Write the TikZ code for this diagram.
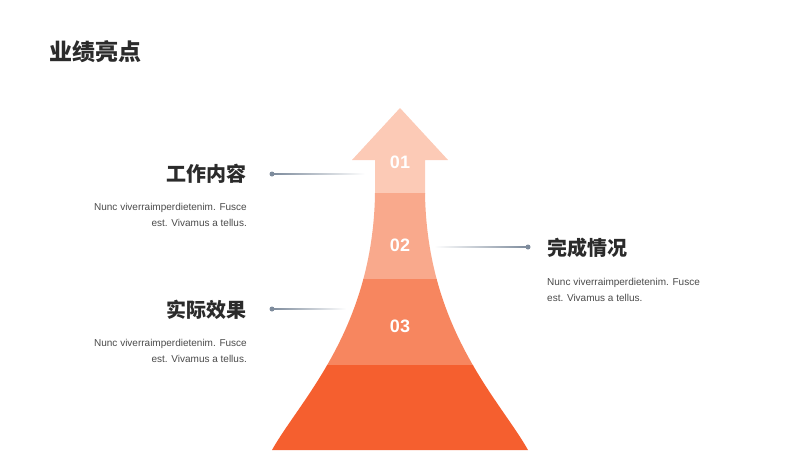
\documentclass[tikz,border=0pt]{standalone}
\usepackage{fontspec}
\setmainfont{Liberation Sans}
\newfontfamily\cjk{Noto Sans CJK SC}
\usetikzlibrary{calc}

\definecolor{bandA}{HTML}{FCCAB6}
\definecolor{bandB}{HTML}{F9A98C}
\definecolor{bandC}{HTML}{F7865F}
\definecolor{bandD}{HTML}{F55F2F}
\definecolor{linegray}{HTML}{7D8B9C}
\definecolor{txtdark}{HTML}{2B2B2B}
\definecolor{txtgray}{HTML}{4A4A4A}

\begin{document}
\begin{tikzpicture}[
        x=1pt, y=-1pt,
        title/.style={font=\cjk\bfseries\fontsize{23}{27}\selectfont, text=txtdark, inner sep=0pt},
        headtext/.style={font=\cjk\bfseries\fontsize{20}{24}\selectfont, text=txtdark, inner sep=0pt},
        body/.style={font=\fontsize{10}{16}\selectfont, text=txtgray, inner sep=0pt},
        num/.style={font=\bfseries\fontsize{18}{20}\selectfont, text=white, inner sep=0pt},
        enddot/.style={circle, fill=linegray, inner sep=0pt, minimum size=5pt}
    ]
    \useasboundingbox (0,0) rectangle (800,450);

    % Arrow
    \begin{scope}
        \clip (400,108) -- (448,160) -- (425,160) -- (425,193)
            .. controls (427,330) and (500,400) .. (528,450) -- (272,450)
            .. controls (300,400) and (373,330) .. (375,193) -- (375,160) -- (352,160) -- cycle;
        \fill[bandA] (340,100) rectangle (460,194);
        \fill[bandB] (260,193) rectangle (540,280);
        \fill[bandC] (260,279) rectangle (540,366);
        \fill[bandD] (260,365) rectangle (540,451);
    \end{scope}

    % Nodes
    \node (T) [title, anchor=west] at (49,52) {业绩亮点};

    \node (n1) [num] at (400,162) {01};
    \node (n2) [num] at (400,245) {02};
    \node (n3) [num] at (400,326) {03};

    \node (H1) [headtext, anchor=east] at (247,174) {工作内容};
    \node (B1) [body, anchor=north east, align=right] at (247,203) {Nunc viverraimperdietenim. Fusce\\est. Vivamus a tellus.};

    \node (H2) [headtext, anchor=west] at (547,248) {完成情况};
    \node (B2) [body, anchor=north west, align=left] at (547,278.5) {Nunc viverraimperdietenim. Fusce\\est. Vivamus a tellus.};

    \node (H3) [headtext, anchor=east] at (247,310) {实际效果};
    \node (B3) [body, anchor=north east, align=right] at (247,339.5) {Nunc viverraimperdietenim. Fusce\\est. Vivamus a tellus.};

    % Connectors
    \node (d1) [enddot] at (272,174) {};
    \coordinate (e1) at (365,174);
    \node (d2) [enddot] at (528,247) {};
    \coordinate (e2) at (434,247);
    \node (d3) [enddot] at (272,309) {};
    \coordinate (e3) at (346,309);

    \shade[left color=linegray, right color=white] ($(d1.center)+(0,-0.7)$) rectangle ($(e1)+(0,0.7)$);
    \shade[left color=white, right color=linegray] ($(e2)+(0,-0.7)$) rectangle ($(d2.center)+(0,0.7)$);
    \shade[left color=linegray, right color=white] ($(d3.center)+(0,-0.7)$) rectangle ($(e3)+(0,0.7)$);

\end{tikzpicture}
\end{document}
